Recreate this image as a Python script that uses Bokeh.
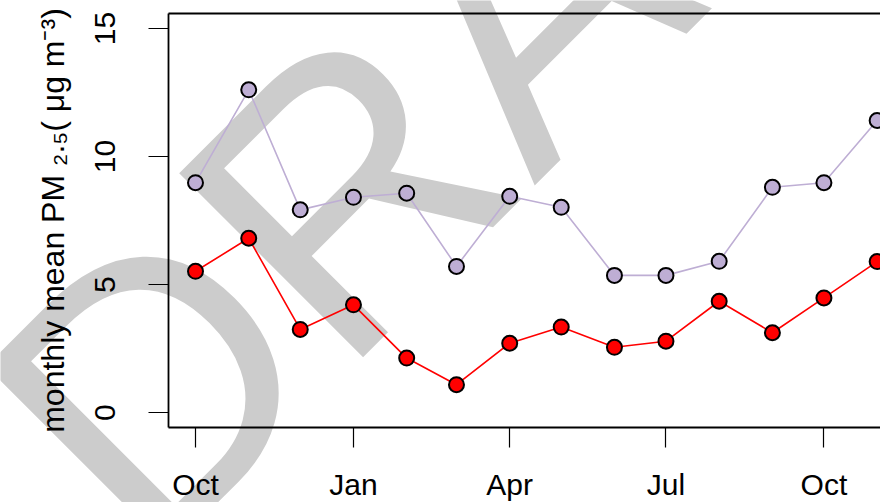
import math
import pandas as pd
from bokeh.plotting import figure
from bokeh.models import (FixedTicker, DatetimeTickFormatter, LinearAxis, Label,
                          Range1d, ColumnDataSource)
from bokeh.embed import file_html
from bokeh.resources import INLINE

# ---- data ----
month_starts = pd.date_range("2015-10-01", periods=14, freq="MS")
purple_values = [8.98, 12.61, 7.92, 8.41, 8.57, 5.71, 8.45, 8.02, 5.36, 5.36, 5.91, 8.80, 8.98, 11.41]
red_values = [5.52, 6.81, 3.25, 4.21, 2.13, 1.09, 2.71, 3.34, 2.55, 2.79, 4.35, 3.12, 4.48, 5.90]
tick_dates = ["2015-10-01", "2016-01-01", "2016-04-01", "2016-07-01", "2016-10-01"]
tick_labels = ["Oct", "Jan", "Apr", "Jul", "Oct"]
y_ticks = [0, 5, 10, 15]
y_label = "monthly mean PM \u2082.\u2085( \u03bcg m\u207b\u00b3)"
watermark = "DRAFT"

FONT = "Liberation Sans"
DAY = 86400000.0
W, H = 880, 502

# pixel <-> data mapping of the reference (Oct 1 at px 195, 1.717 px/day; y=0 at px 412.1, 25.6 px/unit)
t0 = pd.Timestamp("2015-10-01").value / 1e6

def px_to_x(px):
    return t0 + (px - 195.0) / 1.717 * DAY

def py_to_y(py):
    return (412.1 - py) / 25.6

# plotting box (R style: 4% padding around data range)
box_x0 = t0 - 15.84 * DAY
box_x1 = px_to_x(W + 20)
box_y0, box_y1 = -0.6, 15.6

p = figure(width=W, height=H, output_backend="svg", toolbar_location=None,
           x_axis_type="datetime",
           x_range=Range1d(px_to_x(0), px_to_x(W)), y_range=Range1d(py_to_y(H), py_to_y(0)),
           min_border_left=0, min_border_right=0, min_border_top=0, min_border_bottom=0)
p.outline_line_color = None
p.grid.visible = False
p.background_fill_color = "white"
p.border_fill_color = "white"

wm = Label(x=px_to_x(55), y=py_to_y(479), text=watermark, angle=math.pi / 4,
           text_font=FONT, text_font_size="378px", text_color="#CCCCCC",
           text_align="left", text_baseline="alphabetic", level="underlay")
p.add_layout(wm)

src = ColumnDataSource(dict(x=list(month_starts), purple=purple_values, red=red_values))
p.line("x", "purple", source=src, line_color="#BEAED4", line_width=1.6)
p.scatter("x", "purple", source=src, size=15, fill_color="#BEAED4", line_color="black", line_width=2)
p.line("x", "red", source=src, line_color="#FF0000", line_width=1.6)
p.scatter("x", "red", source=src, size=15, fill_color="#FF0000", line_color="black", line_width=2)

# x axis
xa = p.xaxis[0]
xa.ticker = FixedTicker(ticks=[pd.Timestamp(d).value / 1e6 for d in tick_dates])
fmt = "%b"
xa.formatter = DatetimeTickFormatter(milliseconds=fmt, seconds=fmt, minsec=fmt, minutes=fmt,
                                     hourmin=fmt, hours=fmt, days=fmt, months=fmt, years=fmt)
xa.fixed_location = box_y0
xa.bounds = (box_x0, box_x1)
# y axis
ya = p.yaxis[0]
ya.ticker = FixedTicker(ticks=y_ticks)
ya.major_label_orientation = "vertical"
ya.axis_label = y_label
ya.fixed_location = box_x0
ya.bounds = (box_y0, box_y1)

for ax in (xa, ya):
    ax.axis_line_color = "black"
    ax.axis_line_width = 1.8
    ax.major_tick_line_color = "black"
    ax.major_tick_line_width = 1.2
    ax.major_tick_out = 20
    ax.major_tick_in = 0
    ax.minor_tick_line_color = None
    ax.major_label_text_font = FONT
    ax.major_label_text_font_size = "30px"
    ax.major_label_text_color = "black"
    ax.axis_label_text_font = FONT
    ax.axis_label_text_font_size = "32px"
    ax.axis_label_text_font_style = "normal"
    ax.axis_label_text_color = "black"

xa.major_label_standoff = 20
ya.major_label_standoff = 33
ya.axis_label_standoff = 22

top = LinearAxis(ticker=FixedTicker(ticks=[]), major_tick_out=0, major_tick_in=0,
                 major_label_standoff=0, minor_tick_line_color=None,
                 axis_line_color="black", axis_line_width=1.8,
                 fixed_location=box_y1, bounds=(box_x0, box_x1))
top.major_label_text_font_size = "0px"
p.add_layout(top, "above")

open("out.html", "w").write(file_html(p, INLINE))
